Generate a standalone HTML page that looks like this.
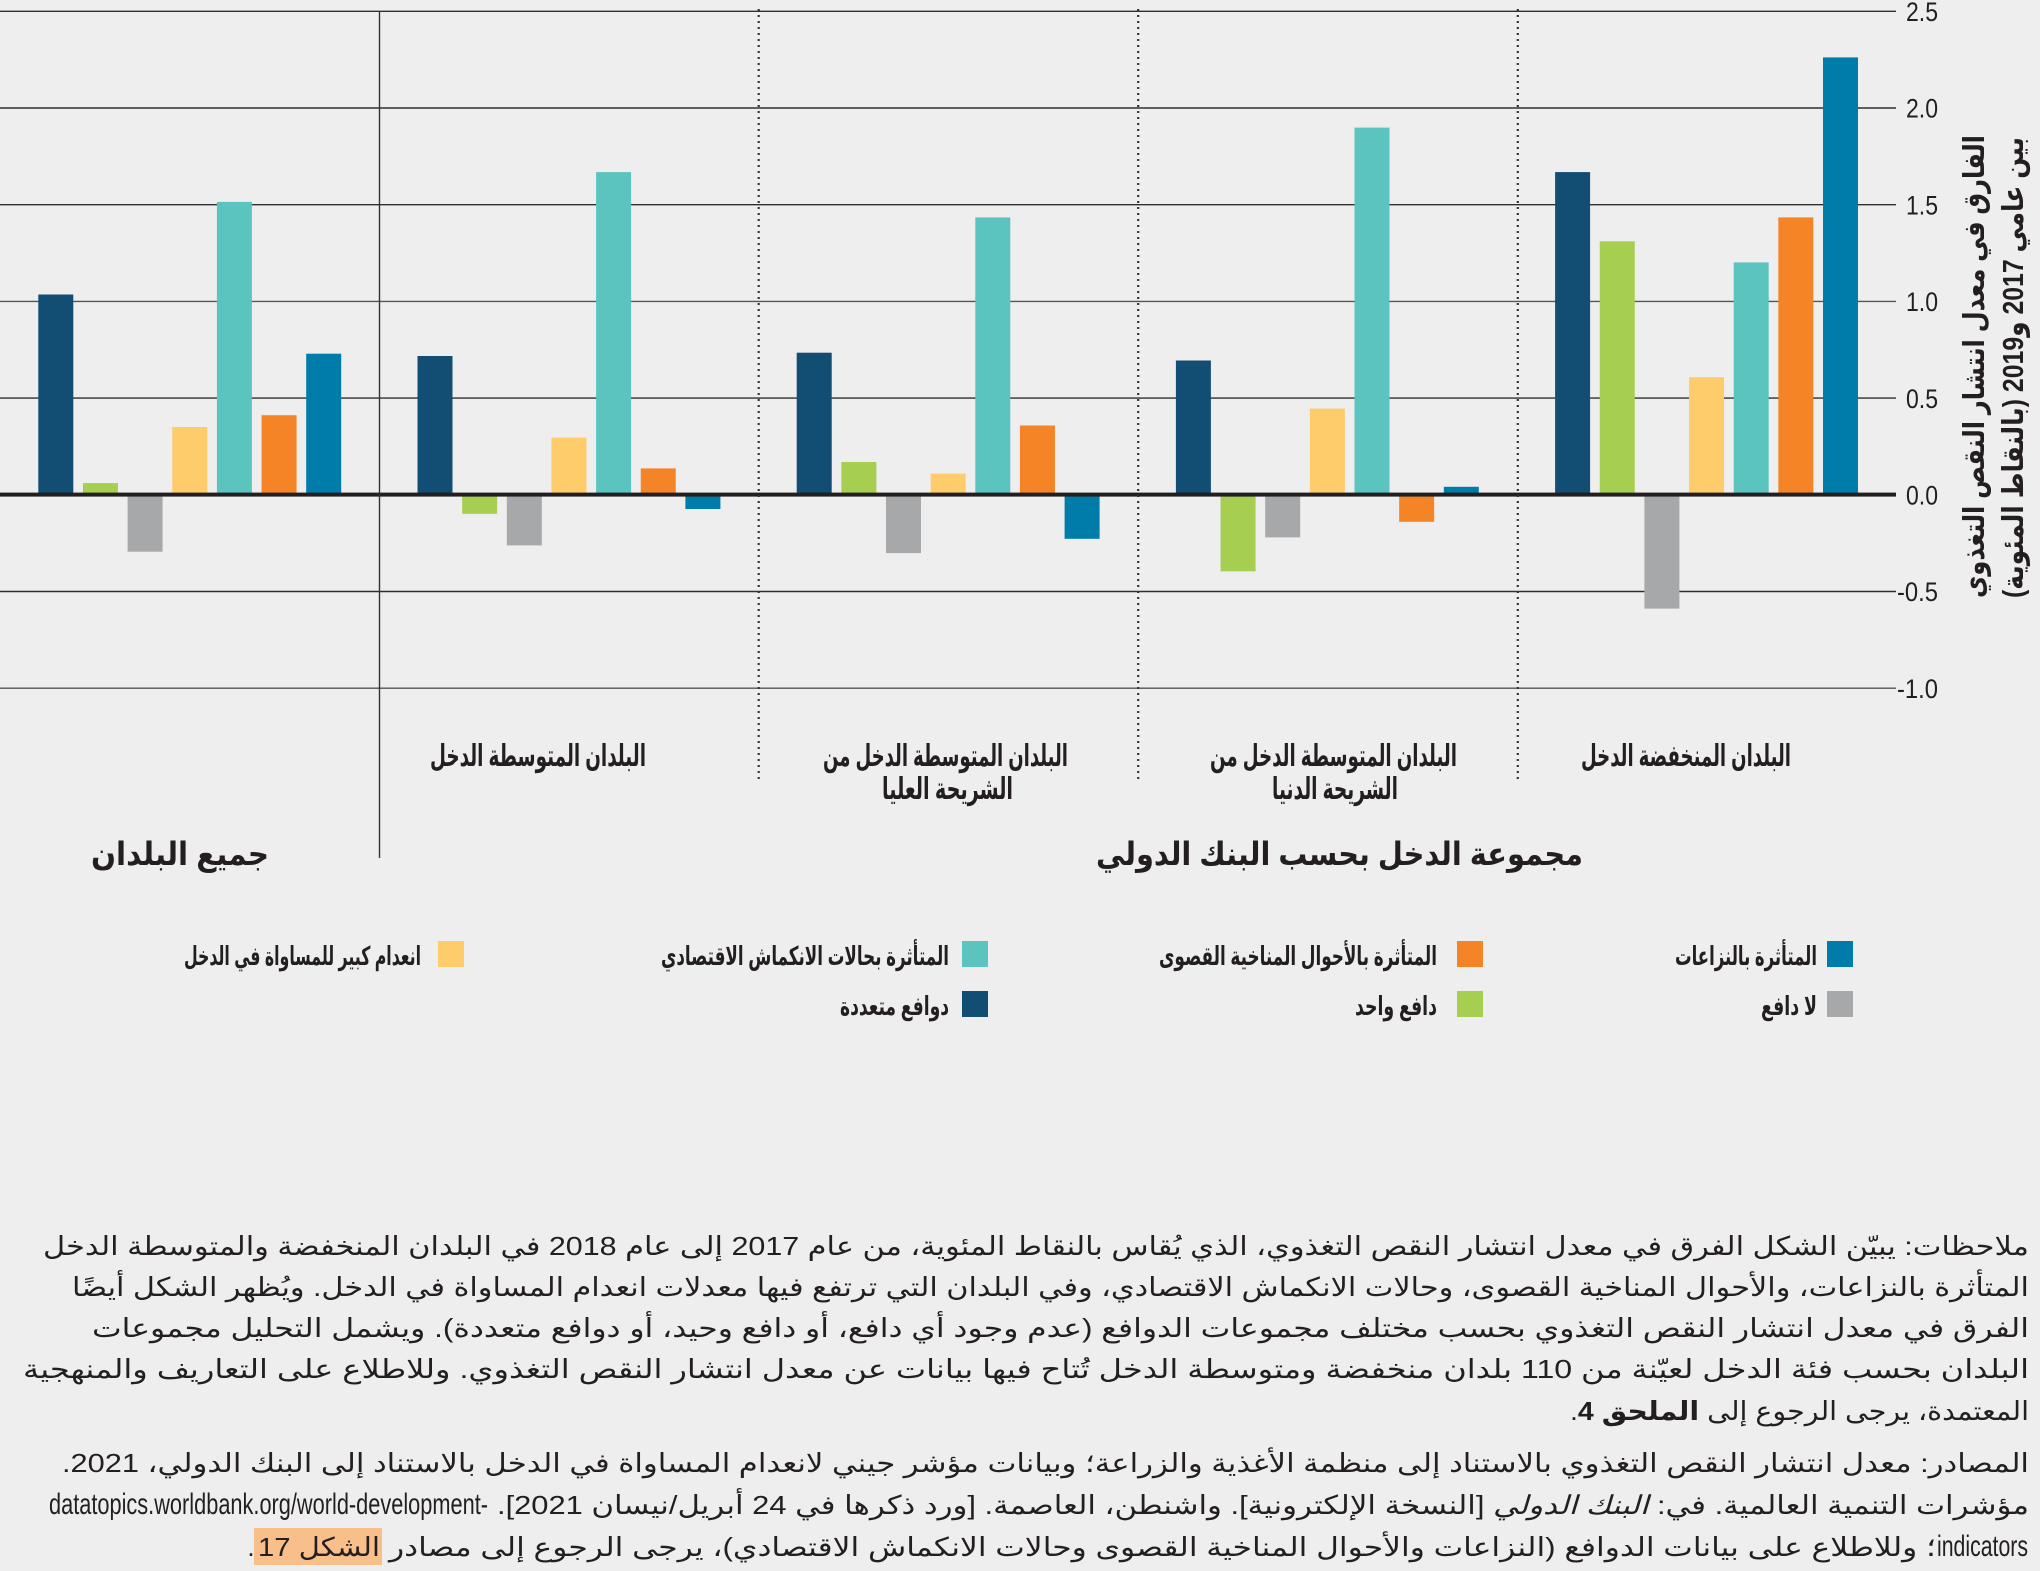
<!DOCTYPE html>
<html lang="ar">
<head>
<meta charset="utf-8">
<style>
  html,body{margin:0;padding:0;background:#eeeeee;}
  body{width:2040px;height:1571px;overflow:hidden;}
  svg{display:block;}
  .ar{font-family:"Liberation Sans","DejaVu Sans",sans-serif;fill:#231f20;}
  .lat{font-family:"Liberation Sans","DejaVu Sans",sans-serif;fill:#231f20;}
</style>
</head>
<body>
<svg width="2040" height="1571" viewBox="0 0 2040 1571" xmlns="http://www.w3.org/2000/svg">
  <rect x="0" y="0" width="2040" height="1571" fill="#eeeeee"/>

  <!-- grid lines -->
  <g stroke="#2e2e2e" stroke-width="1.4">
    <line x1="0" y1="11.3" x2="1896" y2="11.3"/>
    <line x1="0" y1="108" x2="1896" y2="108"/>
    <line x1="0" y1="204.7" x2="1896" y2="204.7"/>
    <line x1="0" y1="301.4" x2="1896" y2="301.4" stroke="#555"/>
    <line x1="0" y1="398.1" x2="1896" y2="398.1"/>
    <line x1="0" y1="591.5" x2="1896" y2="591.5"/>
    <line x1="0" y1="688.2" x2="1896" y2="688.2" stroke="#555"/>
  </g>

  <!-- Group 0: All countries -->
  <g>
    <rect x="38.3" y="294.5" width="35" height="200" fill="#124e73"/>
    <rect x="82.95" y="483.1" width="35" height="11.4" fill="#a6ce50"/>
    <rect x="127.6" y="494.5" width="35" height="57.2" fill="#a7a8aa"/>
    <rect x="172.25" y="427" width="35" height="67.5" fill="#fecc6a"/>
    <rect x="216.9" y="201.9" width="35" height="292.6" fill="#5cc4bf"/>
    <rect x="261.55" y="415.2" width="35" height="79.3" fill="#f58426"/>
    <rect x="306.2" y="353.7" width="35" height="140.8" fill="#007cab"/>
  </g>
  <!-- Group 1: Middle income -->
  <g>
    <rect x="417.5" y="356" width="35" height="138.5" fill="#124e73"/>
    <rect x="462.15" y="494.5" width="35" height="19.3" fill="#a6ce50"/>
    <rect x="506.8" y="494.5" width="35" height="50.9" fill="#a7a8aa"/>
    <rect x="551.45" y="437.6" width="35" height="56.9" fill="#fecc6a"/>
    <rect x="596.1" y="172.1" width="35" height="322.4" fill="#5cc4bf"/>
    <rect x="640.75" y="468.4" width="35" height="26.1" fill="#f58426"/>
    <rect x="685.4" y="494.5" width="35" height="14.5" fill="#007cab"/>
  </g>
  <!-- Group 2: Upper-middle income -->
  <g>
    <rect x="796.7" y="352.7" width="35" height="141.8" fill="#124e73"/>
    <rect x="841.35" y="462" width="35" height="32.5" fill="#a6ce50"/>
    <rect x="886" y="494.5" width="35" height="58.6" fill="#a7a8aa"/>
    <rect x="930.65" y="473.6" width="35" height="20.9" fill="#fecc6a"/>
    <rect x="975.3" y="217.4" width="35" height="277.1" fill="#5cc4bf"/>
    <rect x="1019.95" y="425.5" width="35" height="69" fill="#f58426"/>
    <rect x="1064.6" y="494.5" width="35" height="44.3" fill="#007cab"/>
  </g>
  <!-- Group 3: Lower-middle income -->
  <g>
    <rect x="1175.9" y="360.5" width="35" height="134" fill="#124e73"/>
    <rect x="1220.55" y="494.5" width="35" height="76.8" fill="#a6ce50"/>
    <rect x="1265.2" y="494.5" width="35" height="42.9" fill="#a7a8aa"/>
    <rect x="1309.85" y="408.6" width="35" height="85.9" fill="#fecc6a"/>
    <rect x="1354.5" y="127.6" width="35" height="366.9" fill="#5cc4bf"/>
    <rect x="1399.15" y="494.5" width="35" height="27.3" fill="#f58426"/>
    <rect x="1443.8" y="486.8" width="35" height="7.7" fill="#007cab"/>
  </g>
  <!-- Group 4: Low income -->
  <g>
    <rect x="1555.1" y="172.1" width="35" height="322.4" fill="#124e73"/>
    <rect x="1599.75" y="241.3" width="35" height="253.2" fill="#a6ce50"/>
    <rect x="1644.4" y="494.5" width="35" height="114.1" fill="#a7a8aa"/>
    <rect x="1689.05" y="377.1" width="35" height="117.4" fill="#fecc6a"/>
    <rect x="1733.7" y="262.4" width="35" height="232.1" fill="#5cc4bf"/>
    <rect x="1778.35" y="217.4" width="35" height="277.1" fill="#f58426"/>
    <rect x="1823" y="57.4" width="35" height="437.1" fill="#007cab"/>
  </g>

  <!-- zero line -->
  <rect x="0" y="492.6" width="1896" height="4" fill="#231f20"/>

  <!-- dividers -->
  <line x1="379.5" y1="11" x2="379.5" y2="858" stroke="#333" stroke-width="1.4"/>
  <g stroke="#333" stroke-width="2.2" stroke-dasharray="2 4">
    <line x1="758.7" y1="9" x2="758.7" y2="782"/>
    <line x1="1138.2" y1="9" x2="1138.2" y2="782"/>
    <line x1="1517.8" y1="9" x2="1517.8" y2="782"/>
  </g>

  <!-- y tick labels -->
  <g class="lat" font-size="27" text-anchor="end">
    <text x="1938" y="21" textLength="32" lengthAdjust="spacingAndGlyphs">2.5</text>
    <text x="1938" y="117.7" textLength="32" lengthAdjust="spacingAndGlyphs">2.0</text>
    <text x="1938" y="214.4" textLength="32" lengthAdjust="spacingAndGlyphs">1.5</text>
    <text x="1938" y="311.1" textLength="32" lengthAdjust="spacingAndGlyphs">1.0</text>
    <text x="1938" y="407.8" textLength="32" lengthAdjust="spacingAndGlyphs">0.5</text>
    <text x="1938" y="504.5" textLength="32" lengthAdjust="spacingAndGlyphs">0.0</text>
    <text x="1938" y="601.2" textLength="41" lengthAdjust="spacingAndGlyphs">-0.5</text>
    <text x="1938" y="697.9" textLength="41" lengthAdjust="spacingAndGlyphs">-1.0</text>
  </g>

  <!-- y axis title (rotated) -->
  <text class="ar" font-size="29" font-weight="bold" direction="rtl" text-anchor="middle"
        transform="translate(1984,366.5) rotate(-90)" textLength="463" lengthAdjust="spacingAndGlyphs">الفارق في معدل انتشار النقص التغذوي</text>
  <text class="ar" font-size="29" font-weight="bold" direction="rtl" text-anchor="middle"
        transform="translate(2023,367.5) rotate(-90)" textLength="461" lengthAdjust="spacingAndGlyphs">بين عامي 2017 و2019 (بالنقاط المئوية)</text>

  <!-- category labels -->
  <g class="ar" font-size="30" font-weight="bold" text-anchor="middle">
    <text x="538" y="766" direction="rtl" textLength="216" lengthAdjust="spacingAndGlyphs">البلدان المتوسطة الدخل</text>
    <text x="945.5" y="766" direction="rtl" textLength="245" lengthAdjust="spacingAndGlyphs">البلدان المتوسطة الدخل من</text>
    <text x="947.5" y="799" direction="rtl" textLength="131" lengthAdjust="spacingAndGlyphs">الشريحة العليا</text>
    <text x="1333.5" y="766" direction="rtl" textLength="247" lengthAdjust="spacingAndGlyphs">البلدان المتوسطة الدخل من</text>
    <text x="1335" y="799" direction="rtl" textLength="126" lengthAdjust="spacingAndGlyphs">الشريحة الدنيا</text>
    <text x="1686" y="766" direction="rtl" textLength="210" lengthAdjust="spacingAndGlyphs">البلدان المنخفضة الدخل</text>
  </g>
  <g class="ar" font-size="32" font-weight="bold" text-anchor="middle">
    <text x="180" y="865" direction="rtl" textLength="178" lengthAdjust="spacingAndGlyphs">جميع البلدان</text>
    <text x="1339.5" y="865" direction="rtl" textLength="487" lengthAdjust="spacingAndGlyphs">مجموعة الدخل بحسب البنك الدولي</text>
  </g>

  <!-- legend -->
  <rect x="1827" y="941" width="26" height="26" fill="#007cab"/>
  <rect x="1827" y="991" width="26" height="26" fill="#a7a8aa"/>
  <rect x="1457" y="941" width="26" height="26" fill="#f58426"/>
  <rect x="1457" y="991" width="26" height="26" fill="#a6ce50"/>
  <rect x="962" y="941" width="26" height="26" fill="#5cc4bf"/>
  <rect x="962" y="991" width="26" height="26" fill="#124e73"/>
  <rect x="438" y="941" width="26" height="26" fill="#fecc6a"/>
  <g class="ar" font-size="26" font-weight="bold" text-anchor="middle">
    <text x="1746" y="965" direction="rtl" textLength="142" lengthAdjust="spacingAndGlyphs">المتأثرة بالنزاعات</text>
    <text x="1789" y="1015" direction="rtl" textLength="56" lengthAdjust="spacingAndGlyphs">لا دافع</text>
    <text x="1298" y="965" direction="rtl" textLength="278" lengthAdjust="spacingAndGlyphs">المتأثرة بالأحوال  المناخية القصوى</text>
    <text x="1396" y="1015" direction="rtl" textLength="82" lengthAdjust="spacingAndGlyphs">دافع واحد</text>
    <text x="805" y="965" direction="rtl" textLength="288" lengthAdjust="spacingAndGlyphs">المتأثرة بحالات الانكماش الاقتصادي</text>
    <text x="894.5" y="1015" direction="rtl" textLength="109" lengthAdjust="spacingAndGlyphs">دوافع متعددة</text>
    <text x="302.5" y="965" direction="rtl" textLength="237" lengthAdjust="spacingAndGlyphs">انعدام كبير للمساواة في الدخل</text>
  </g>

  <!-- notes -->
  <rect x="254" y="1528" width="128" height="37" fill="#f9bf8b"/>
  <g class="ar" font-size="26" text-anchor="middle">
    <text x="1036" y="1255" direction="rtl" textLength="1986" lengthAdjust="spacingAndGlyphs">ملاحظات: يبيّن الشكل الفرق في معدل انتشار النقص التغذوي، الذي يُقاس بالنقاط المئوية، من عام 2017 إلى عام 2018 في البلدان المنخفضة والمتوسطة الدخل</text>
    <text x="1050.5" y="1296" direction="rtl" textLength="1957" lengthAdjust="spacingAndGlyphs">المتأثرة بالنزاعات، والأحوال المناخية القصوى، وحالات الانكماش الاقتصادي، وفي البلدان التي ترتفع فيها معدلات انعدام المساواة في الدخل. ويُظهر الشكل أيضًا</text>
    <text x="1060.5" y="1337" direction="rtl" textLength="1937" lengthAdjust="spacingAndGlyphs">الفرق في معدل انتشار النقص التغذوي بحسب مختلف مجموعات الدوافع (عدم وجود أي دافع، أو دافع وحيد، أو دوافع متعددة). ويشمل التحليل مجموعات</text>
    <text x="1026" y="1378" direction="rtl" textLength="2006" lengthAdjust="spacingAndGlyphs">البلدان بحسب فئة الدخل لعيّنة من 110 بلدان منخفضة ومتوسطة الدخل تُتاح فيها بيانات عن معدل انتشار النقص التغذوي. وللاطلاع على التعاريف والمنهجية</text>
    <text x="1799.5" y="1420" direction="rtl" textLength="459" lengthAdjust="spacingAndGlyphs">المعتمدة، يرجى الرجوع إلى <tspan font-weight="bold">الملحق 4</tspan>.</text>
    <text x="1045.5" y="1472" direction="rtl" textLength="1967" lengthAdjust="spacingAndGlyphs">المصادر: معدل انتشار النقص التغذوي بالاستناد إلى منظمة الأغذية والزراعة؛ وبيانات مؤشر جيني لانعدام المساواة في الدخل بالاستناد إلى البنك الدولي، 2021.</text>
    <text x="1263" y="1514" direction="rtl" textLength="1532" lengthAdjust="spacingAndGlyphs">مؤشرات التنمية العالمية. في: <tspan font-style="italic">البنك الدولي</tspan> [النسخة الإلكترونية]. واشنطن، العاصمة. [ورد ذكرها في 24 أبريل/نيسان 2021].</text>
    <text x="1162.5" y="1556" direction="rtl" textLength="1547" lengthAdjust="spacingAndGlyphs">؛ وللاطلاع على بيانات الدوافع (النزاعات والأحوال المناخية القصوى وحالات الانكماش الاقتصادي)، يرجى الرجوع إلى مصادر</text>
    <text x="319" y="1556" direction="rtl" textLength="122" lengthAdjust="spacingAndGlyphs">الشكل 17</text>
    <text x="251" y="1556">.</text>
  </g>
  <g class="lat" font-size="30" text-anchor="middle">
    <text x="268.5" y="1514" textLength="439" lengthAdjust="spacingAndGlyphs">datatopics.worldbank.org/world-development-</text>
    <text x="1982.5" y="1556" textLength="91" lengthAdjust="spacingAndGlyphs">indicators</text>
  </g>
</svg>
</body>
</html>
